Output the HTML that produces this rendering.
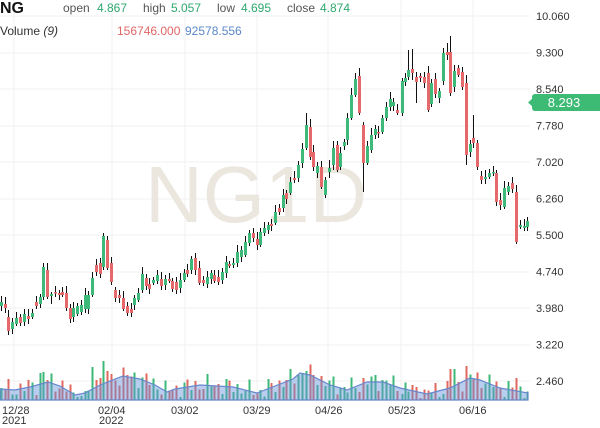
<!DOCTYPE html>
<html><head><meta charset="utf-8">
<style>
html,body{margin:0;padding:0;background:#fff;width:600px;height:428px;overflow:hidden}
svg{display:block;font-family:"Liberation Sans",Arial,sans-serif}
</style></head>
<body>
<svg id="c" width="600" height="428" xmlns="http://www.w3.org/2000/svg">
<g id="grid" stroke="#f1f1f1" stroke-width="1" shape-rendering="crispEdges"></g>
<text x="145" y="222" font-size="80" fill="#ebe7df">NG1D</text>
<g id="vol" shape-rendering="crispEdges"></g>
<path id="ma" fill="rgba(100,145,220,0.45)" stroke="#6688cc" stroke-width="1.2"></path>
<g id="candles" shape-rendering="crispEdges"></g>

<g font-size="11" fill="#333">
<text x="536" y="20">10.060</text>
<text x="536" y="56.5">9.300</text>
<text x="536" y="93">8.540</text>
<text x="536" y="129.5">7.780</text>
<text x="536" y="166">7.020</text>
<text x="536" y="202.5">6.260</text>
<text x="536" y="239">5.500</text>
<text x="536" y="275.5">4.740</text>
<text x="536" y="312">3.980</text>
<text x="536" y="348.5">3.220</text>
<text x="536" y="385">2.460</text>
</g>
<polygon points="528,102.5 533,98 533,107" fill="#3dba74"/>
<rect x="532" y="94" width="70" height="17" rx="3" fill="#3dba74"/>
<text x="564" y="107" font-size="13" fill="#fff" text-anchor="middle">8.293</text>

<g font-size="11" fill="#333">
<text x="2" y="414">12/28</text>
<text x="2" y="424">2021</text>
<text x="98" y="414">02/04</text>
<text x="99" y="424">2022</text>
<text x="171" y="414">03/02</text>
<text x="243" y="414">03/29</text>
<text x="315" y="414">04/26</text>
<text x="388" y="414">05/23</text>
<text x="459" y="414">06/16</text>
</g>

<text x="0" y="13" font-size="16" font-weight="bold" fill="#111">NG</text>
<g font-size="12">
<text x="63" y="12" fill="#555">open</text>
<text x="97" y="12" fill="#2fa86f">4.867</text>
<text x="143" y="12" fill="#555">high</text>
<text x="171" y="12" fill="#2fa86f">5.057</text>
<text x="217" y="12" fill="#555">low</text>
<text x="241" y="12" fill="#2fa86f">4.695</text>
<text x="287" y="12" fill="#555">close</text>
<text x="320" y="12" fill="#2fa86f">4.874</text>
<text x="0" y="35" fill="#333">Volume <tspan font-style="italic">(9)</tspan></text>
<text x="117" y="35" fill="#e06666">156746.000</text>
<text x="185" y="35" fill="#5b87c5">92578.556</text>
</g>
</svg>
<script>
(function(){
var NS="http://www.w3.org/2000/svg";
var grid=document.getElementById('grid');
var gs='';
[16,52.5,89,125.5,162,198.5,235,271.5,308,344.5,381].forEach(function(y){
 gs+='<line x1="0" y1="'+Math.round(y)+'" x2="530" y2="'+Math.round(y)+'"/>';});
[14,112,185,257,328,401,473].forEach(function(x){
 gs+='<line x1="'+x+'" y1="0" x2="'+x+'" y2="400"/>';});
grid.innerHTML=gs;

var D=[[1,302,306,'g',296,311],[5,304,308,'r',297,313],[8,317,331,'r'],[12,322,329,'g'],[16,318,324,'g'],[20,317,323,'r'],[24,314,322,'g'],[28,316,319,'r'],[32,313,317,'g'],[36,302,306,'r'],[40,297,304,'g'],[43,267,297,'g',263,300],[47,270,297,'r'],[51,294,296,'g',292,304],[55,292,293,'r'],[59,293,295,'r'],[62,292,295,'r'],[66,293,308,'r'],[70,308,319,'r'],[73,308,317,'g'],[77,306,314,'g'],[81,305,312,'g'],[85,295,309,'g'],[88,295,309,'g'],[92,278,295,'g'],[96,265,272,'r',259,276],[100,263,274,'r'],[103,236,267,'g',233,270],[107,240,268,'r'],[111,263,282,'r'],[115,290,298,'r'],[119,295,298,'r'],[123,298,309,'r'],[127,306,313,'r'],[131,309,313,'r'],[134,298,305,'g'],[138,293,300,'g'],[142,274,290,'g'],[146,278,286,'r'],[149,284,289,'r'],[153,280,283,'g'],[157,275,281,'g'],[161,279,286,'r'],[165,279,285,'g'],[169,279,281,'r'],[172,281,289,'r'],[176,282,290,'r'],[180,280,288,'g'],[184,273,280,'g'],[187,270,274,'r'],[191,259,270,'g'],[195,258,270,'r'],[199,268,283,'r'],[203,280,283,'r'],[207,277,284,'g'],[211,273,279,'g'],[214,275,281,'r'],[218,277,282,'r'],[222,272,280,'g'],[226,262,273,'g'],[229,264,266,'r'],[233,263,265,'g'],[237,252,263,'g'],[241,250,257,'g'],[245,242,255,'g'],[249,233,243,'g'],[253,233,238,'r'],[257,239,245,'r'],[260,232,245,'g'],[264,228,233,'g'],[268,225,230,'g'],[271,224,226,'r'],[275,212,223,'g'],[279,208,212,'r'],[283,195,208,'g'],[286,193,199,'r'],[290,182,193,'g'],[294,178,180,'r'],[298,165,178,'g'],[302,149,163,'g'],[306,125,148,'g',113,150],[310,127,157,'r',119,160],[313,152,167,'r'],[317,166,173,'g'],[321,167,187,'r'],[325,180,195,'g'],[329,168,172,'g',160,178],[333,148,165,'g'],[337,145,170,'r'],[340,153,167,'g'],[344,142,146,'g'],[347,118,140,'g'],[351,95,118,'g'],[355,79,95,'g',73,97],[359,76,113,'r',68,115],[363,125,163,'r',122,192],[367,146,163,'g'],[371,135,150,'g'],[375,129,135,'g'],[378,132,133,'r'],[382,118,132,'g'],[386,107,118,'g'],[390,99,107,'g'],[393,102,106,'g'],[397,110,113,'r'],[402,81,113,'g'],[405,78,82,'g'],[408,70,77,'g',50,80],[412,69,73,'r',49,80],[416,77,82,'r',72,103],[420,76,78,'r'],[424,77,83,'r'],[428,73,110,'r'],[431,83,104,'g'],[435,79,94,'r'],[439,91,98,'g'],[443,53,81,'g',48,85],[447,52,55,'r',43,60],[450,52,93,'r',36,96],[454,71,87,'g'],[458,68,75,'r'],[462,72,87,'r'],[466,83,155,'r',75,165],[470,144,152,'g'],[473,138,143,'r',115,148],[477,143,167,'r'],[481,176,180,'r'],[485,177,179,'g'],[489,173,177,'g'],[493,172,173,'g'],[496,173,202,'r'],[500,200,205,'r',193,210],[504,188,207,'g'],[508,186,192,'g'],[512,183,189,'r'],[516,192,242,'r',185,244],[520,225,227,'g'],[524,226,228,'g'],[527,221,227,'g']];

var MP=[[0,389],[15,390],[30,387],[48,382],[60,386],[75,395],[85,393],[100,385],[123,376],[140,379],[155,385],[167,392],[175,389],[200,385],[233,387],[257,393],[275,386],[293,379],[300,373],[310,375],[330,385],[347,390],[367,382],[383,382],[400,388],[427,394],[450,388],[470,378],[480,380],[500,388],[528,393]];
function maY(x){for(var k=0;k<MP.length-1;k++){if(x<=MP[k+1][0]){var t=(x-MP[k][0])/(MP[k+1][0]-MP[k][0]);return MP[k][1]+t*(MP[k+1][1]-MP[k][1]);}}return MP[MP.length-1][1];}
var OV={40:373,43:372,47:380,92:367,96:380,100:378,103:361,107:371,302:373,306:371,450:369,454:369,466:366,516:378,75:397,77:397,81:396};
var vs='',cs='';
D.forEach(function(d,i){
 var x=d[0],a=d[1],b=d[2],c=d[3],wt=d[4],wb=d[5];
 var top=Math.min(a,b),bot=Math.max(a,b);
 if(wt===undefined){wt=top-3-(i*7%5);wb=bot+2+(i*5%4);}
 var col=c=='g'?'#3dba7a':'#e5686b';
 cs+='<line x1="'+(x+0.5)+'" y1="'+wt+'" x2="'+(x+0.5)+'" y2="'+wb+'" stroke="#111" stroke-width="1"/>';
 var h=Math.max(bot-top,1.5);
 cs+='<rect x="'+(x-1)+'" y="'+top+'" width="3" height="'+h+'" fill="'+col+'"/>';
 var vt=OV[x]!==undefined?OV[x]:maY(x)+7*Math.sin(i*2.3)+4*Math.sin(i*5.1)-1;
 if(vt>398)vt=398;
 vs+='<rect x="'+(x-0.5)+'" y="'+vt.toFixed(1)+'" width="2" height="'+(400-vt).toFixed(1)+'" fill="'+(c=='g'?'#3cb878':'#e0685f')+'"/>';
});
document.getElementById('candles').innerHTML=cs;
document.getElementById('vol').innerHTML=vs;
var p='M0,400 ';
MP.forEach(function(q){p+='L'+q[0]+','+q[1]+' ';});
p+='L528,400 Z';
document.getElementById('ma').setAttribute('d',p);
})();
</script>
</body></html>
